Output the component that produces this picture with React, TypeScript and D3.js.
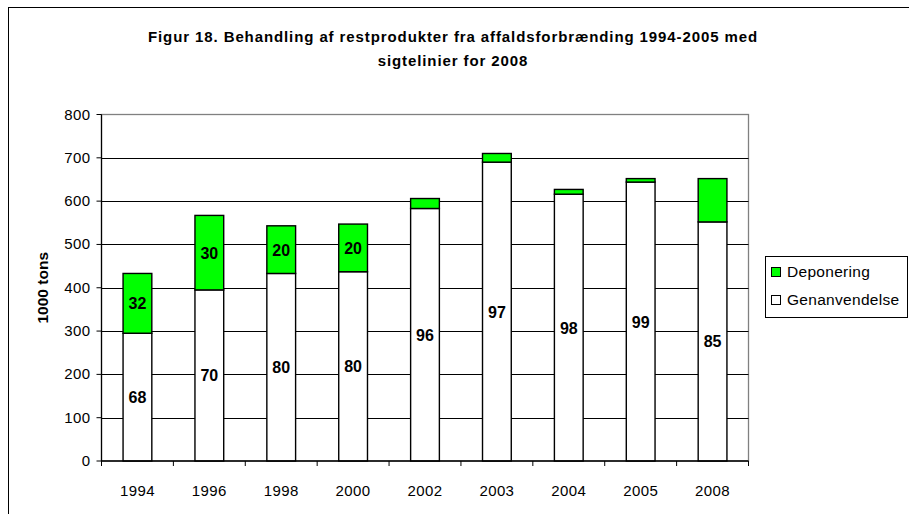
import React from 'react';
import * as d3 from 'd3';

const years = ['1994', '1996', '1998', '2000', '2002', '2003', '2004', '2005', '2008'];
const genanvendelse = [295, 395, 433, 437, 583, 690, 616, 644, 552];
const deponering = [138, 172, 110, 110, 23, 20, 11, 8, 100];
const pctGenanvendelse = [68, 70, 80, 80, 96, 97, 98, 99, 85];
const pctDeponering: (number | null)[] = [32, 30, 20, 20, null, null, null, null, null];
const yTicks = [0, 100, 200, 300, 400, 500, 600, 700, 800];
const seriesNames = ['Deponering', 'Genanvendelse'];
const seriesColors = ['#00FF00', '#FFFFFF'];

const W = 909;
const H = 514;
const plot = { left: 101.5, right: 748.5, top: 114.5, bottom: 461 };
const font = 'Arial, "Liberation Sans", sans-serif';

export default function App() {
  const x = d3.scaleBand<string>().domain(years).range([plot.left, plot.right]).padding(0);
  const y = d3.scaleLinear().domain([0, 800]).range([plot.bottom, plot.top]);
  const bw = x.bandwidth() / 2.5;

  return (
    <svg width={W} height={H} style={{ position: 'absolute', left: 0, top: 0, background: '#fff' }}
      fontFamily={font}>
      <rect x={8.5} y={7.5} width={1200} height={1200} fill="#fff" stroke="#000" strokeWidth={1} />
      <text x={453} y={42} textAnchor="middle" fontSize={15} fontWeight="bold" letterSpacing={0.9}>
        Figur 18. Behandling af restprodukter fra affaldsforbrænding 1994-2005 med
      </text>
      <text x={453} y={66} textAnchor="middle" fontSize={15} fontWeight="bold" letterSpacing={0.9}>
        sigtelinier for 2008
      </text>

      {/* plot area frame */}
      <rect x={plot.left} y={plot.top} width={plot.right - plot.left} height={plot.bottom - plot.top}
        fill="#fff" stroke="#808080" strokeWidth={1.3} />
      {/* gridlines */}
      {yTicks.filter(t => t > 0 && t < 800).map(t => (
        <line key={t} x1={plot.left} x2={plot.right} y1={Math.round(y(t)) + 0.5} y2={Math.round(y(t)) + 0.5}
          stroke="#000" strokeWidth={1} />
      ))}

      {/* bars */}
      {years.map((yr, i) => {
        const cx = (x(yr) as number) + x.bandwidth() / 2;
        const g0 = y(0), g1 = y(genanvendelse[i]), d1 = y(genanvendelse[i] + deponering[i]);
        return (
          <g key={yr}>
            <rect x={cx - bw / 2} y={g1} width={bw} height={g0 - g1} fill={seriesColors[1]} stroke="#000" strokeWidth={1.4} />
            <rect x={cx - bw / 2} y={d1} width={bw} height={g1 - d1} fill={seriesColors[0]} stroke="#000" strokeWidth={1.4} />
            <text x={cx} y={(g0 + g1) / 2 + 6} textAnchor="middle" fontSize={16} fontWeight="bold">
              {pctGenanvendelse[i]}
            </text>
            {pctDeponering[i] != null && (
              <text x={cx} y={(g1 + d1) / 2 + 6} textAnchor="middle" fontSize={16} fontWeight="bold">
                {pctDeponering[i]}
              </text>
            )}
          </g>
        );
      })}

      {/* axes */}
      <line x1={plot.left} x2={plot.left} y1={plot.top} y2={plot.bottom} stroke="#000" strokeWidth={1.2} />
      <line x1={plot.left} x2={plot.right} y1={plot.bottom} y2={plot.bottom} stroke="#000" strokeWidth={1.4} />
      {yTicks.map(t => (
        <g key={t}>
          <line x1={plot.left - 5} x2={plot.left} y1={y(t)} y2={y(t)} stroke="#000" />
          <text x={plot.left - 11} y={y(t) + 5} textAnchor="end" fontSize={15} letterSpacing={0.4}>{t}</text>
        </g>
      ))}
      {[...years.map(yr => x(yr) as number), plot.right].map((px, i) => (
        <line key={i} x1={px} x2={px} y1={plot.bottom} y2={plot.bottom + 5} stroke="#000" />
      ))}
      {years.map(yr => (
        <text key={yr} x={(x(yr) as number) + x.bandwidth() / 2} y={496} textAnchor="middle" fontSize={15} letterSpacing={0.4}>{yr}</text>
      ))}
      <text transform={`translate(48,${(plot.top + plot.bottom) / 2}) rotate(-90)`} textAnchor="middle"
        fontSize={15.5} fontWeight="bold">1000 tons</text>

      {/* legend */}
      <rect x={765.5} y={256.5} width={142} height={61} fill="#fff" stroke="#000" strokeWidth={1} />
      {seriesNames.map((n, i) => (
        <g key={n}>
          <rect x={771.5} y={267.5 + i * 28} width={9} height={9} fill={seriesColors[i]} stroke="#000" strokeWidth={1} />
          <text x={787} y={277 + i * 28} fontSize={15.5} letterSpacing={0.3}>{n}</text>
        </g>
      ))}
    </svg>
  );
}
